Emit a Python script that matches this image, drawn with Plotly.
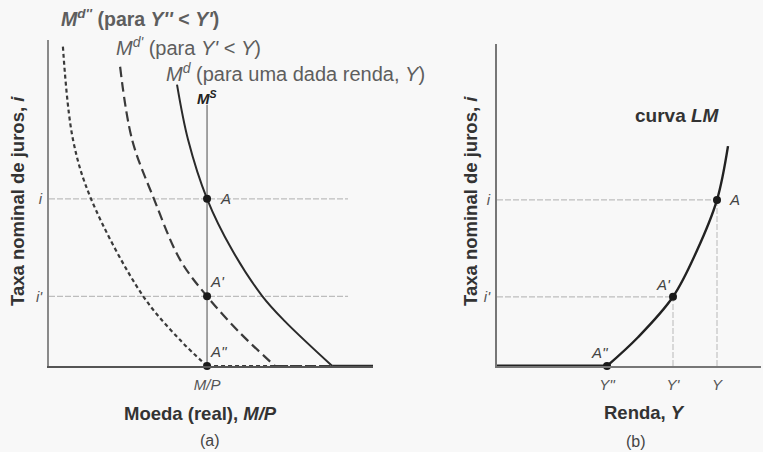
import plotly.graph_objects as go

# ---------------- data (conceptual units) ----------------
# panel (a): real money on x, nominal interest rate on y
M_P = 5.0          # real money supply
I_RATE = 6.0       # interest rate i
I_PRIME = 2.5      # interest rate i'
X_MAX_A = 10.25
Y_MAX = 11.7

md_x = [4.05, 4.40, 5.00, 5.79, 6.74, 7.45, 8.96]
md_y = [10.10, 8.12, 6.00, 4.17, 2.52, 1.62, 0.0]

md1_x = [2.25, 2.63, 3.32, 4.15, 5.00, 6.04, 7.15]
md1_y = [10.74, 8.12, 6.00, 3.81, 2.50, 1.19, 0.0]

md2_x = [0.44, 0.76, 1.33, 2.97, 4.15, 5.00]
md2_y = [11.46, 8.12, 6.00, 2.52, 0.93, 0.0]

ms_top = 9.38
guide_end_a = 9.46

# panel (b): income on x, interest rate on y
Y2 = 5.0    # Y''
Y1 = 8.0    # Y'
Y0 = 10.0   # Y
X_MAX_B = 12.0
lm_x = [5.0, 6.41, 8.0, 9.09, 10.0, 10.5]
lm_y = [0.0, 1.04, 2.5, 4.17, 6.0, 7.94]

FONT = "Liberation Sans, Arial, sans-serif"
W, H = 763, 452


def px(x):
    return x / W


def py(y):
    return 1 - y / H


fig = go.Figure()

guide = dict(color="#bdbdbd", width=1.2, dash="6px,2px")
A_kw = dict(xaxis="x", yaxis="y", showlegend=False, hoverinfo="skip")
B_kw = dict(xaxis="x2", yaxis="y2", showlegend=False, hoverinfo="skip")

# ---- panel (a) ----
fig.add_trace(go.Scatter(x=[0, guide_end_a], y=[I_RATE, I_RATE], mode="lines", line=guide, **A_kw))
fig.add_trace(go.Scatter(x=[0, guide_end_a], y=[I_PRIME, I_PRIME], mode="lines", line=guide, **A_kw))
fig.add_trace(go.Scatter(x=[M_P, M_P], y=[0, ms_top], mode="lines",
                         line=dict(color="#8c8c8c", width=1.6), **A_kw))

fig.add_trace(go.Scatter(x=md2_x, y=md2_y, mode="lines", line=dict(color="#3a3a3a", width=2.2, dash="4px,3px", shape="spline", smoothing=1.0), **A_kw))
fig.add_trace(go.Scatter(x=[md2_x[-1], X_MAX_A], y=[0, 0], mode="lines", line=dict(color="#3a3a3a", width=2.2, dash="4px,3px"), **A_kw))
fig.add_trace(go.Scatter(x=md1_x, y=md1_y, mode="lines", line=dict(color="#3a3a3a", width=2.2, dash="10px,5px", shape="spline", smoothing=1.0), **A_kw))
fig.add_trace(go.Scatter(x=[md1_x[-1], X_MAX_A], y=[0, 0], mode="lines", line=dict(color="#3a3a3a", width=2.2, dash="10px,5px"), **A_kw))
fig.add_trace(go.Scatter(x=md_x, y=md_y, mode="lines", line=dict(color="#2a2a2a", width=2, shape="spline", smoothing=1.0), **A_kw))
fig.add_trace(go.Scatter(x=[md_x[-1], X_MAX_A], y=[0, 0], mode="lines", line=dict(color="#2a2a2a", width=2.4), **A_kw))

fig.add_trace(go.Scatter(x=[M_P, M_P, M_P], y=[I_RATE, I_PRIME, 0], mode="markers",
                         marker=dict(color="#1a1a1a", size=8), cliponaxis=False, **A_kw))

# ---- panel (b) ----
fig.add_trace(go.Scatter(x=[0, Y0], y=[I_RATE, I_RATE], mode="lines", line=guide, **B_kw))
fig.add_trace(go.Scatter(x=[0, Y1], y=[I_PRIME, I_PRIME], mode="lines", line=guide, **B_kw))
fig.add_trace(go.Scatter(x=[Y1, Y1], y=[0, I_PRIME], mode="lines", line=dict(color="#c4c4c4", width=1.2, dash="6px,2px"), **B_kw))
fig.add_trace(go.Scatter(x=[Y0, Y0], y=[0, I_RATE], mode="lines", line=dict(color="#c4c4c4", width=1.2, dash="6px,2px"), **B_kw))
fig.add_trace(go.Scatter(x=[0, Y2], y=[0, 0], mode="lines", line=dict(color="#222", width=3), cliponaxis=False, **B_kw))
fig.add_trace(go.Scatter(x=lm_x, y=lm_y, mode="lines", line=dict(color="#222", width=2.4, shape="spline", smoothing=1.0), **B_kw))
fig.add_trace(go.Scatter(x=[Y2, Y1, Y0], y=[0, I_PRIME, I_RATE], mode="markers",
                         marker=dict(color="#1a1a1a", size=8), cliponaxis=False, **B_kw))

tickfont = dict(family=FONT, size=15, color="#555")
axis_common = dict(showgrid=False, zeroline=False, showline=True, ticks="outside",
                   tickcolor="rgba(0,0,0,0)", tickfont=tickfont, fixedrange=True)

fig.update_layout(
    width=W, height=H,
    margin=dict(l=0, r=0, t=0, b=0),
    paper_bgcolor="#f8f8f8", plot_bgcolor="rgba(0,0,0,0)",
    font=dict(family=FONT, color="#444"),
    xaxis=dict(domain=[px(49), px(373)], range=[0, X_MAX_A], anchor="y",
               tickvals=[M_P], ticktext=["<i>M/P</i>"], ticklen=4,
               linecolor="#555", linewidth=1.5, **axis_common),
    yaxis=dict(domain=[py(366), py(40)], range=[0, Y_MAX], anchor="x",
               tickvals=[I_PRIME, I_RATE], ticktext=["<i>i'</i>", "<i>i</i>"], ticklen=2,
               linecolor="#8a8a8a", linewidth=1.6, **axis_common),
    xaxis2=dict(domain=[px(497), px(761)], range=[0, X_MAX_B], anchor="y2",
                tickvals=[Y2, Y1, Y0], ticktext=["<i>Y''</i>", "<i>Y'</i>", "<i>Y</i>"], ticklen=4,
                linecolor="#777", linewidth=1.5, **axis_common),
    yaxis2=dict(domain=[py(366), py(44)], range=[0, Y_MAX - 0.07], anchor="x2",
                tickvals=[I_PRIME, I_RATE], ticktext=["<i>i'</i>", "<i>i</i>"], ticklen=2,
                linecolor="#777", linewidth=2, **axis_common),
)

ann = []
lab = dict(family=FONT, size=20, color="#5e5e5e")
ann.append(dict(x=px(59), y=py(18), xref="paper", yref="paper", xanchor="left", yanchor="middle",
                text="<b><i>M</i><sup><i>d''</i></sup> (para <i>Y''</i> &lt; <i>Y'</i>)</b>", font=dict(family=FONT, size=19.5, color="#5e5e5e"), showarrow=False))
ann.append(dict(x=px(114), y=py(46), xref="paper", yref="paper", xanchor="left", yanchor="middle",
                text="<i>M</i><sup><i>d'</i></sup> (para <i>Y'</i> &lt; <i>Y</i>)", font=lab, showarrow=False))
ann.append(dict(x=px(164), y=py(72), xref="paper", yref="paper", xanchor="left", yanchor="middle",
                text="<i>M</i><sup><i>d</i></sup> (para uma dada renda, <i>Y</i>)", font=lab, showarrow=False))
ann.append(dict(x=M_P, y=ms_top, xref="x", yref="y", xanchor="center", yanchor="bottom", yshift=-4,
                text="<b><i>M</i></b><sup><b><i>S</i></b></sup>", font=dict(family=FONT, size=15, color="#222"), showarrow=False))

pt = dict(family=FONT, size=15, color="#444")
ann += [
    dict(x=M_P, y=I_RATE, xref="x", yref="y", xanchor="left", yanchor="middle", xshift=11, text="<i>A</i>", font=pt, showarrow=False),
    dict(x=M_P, y=I_PRIME, xref="x", yref="y", xanchor="left", yanchor="bottom", xshift=1, yshift=4, text="<i>A'</i>", font=pt, showarrow=False),
    dict(x=M_P, y=0, xref="x", yref="y", xanchor="left", yanchor="bottom", xshift=1, yshift=4, text="<i>A''</i>", font=pt, showarrow=False),
    dict(x=Y2, y=0, xref="x2", yref="y2", xanchor="right", yanchor="bottom", xshift=4, yshift=3, text="<i>A''</i>", font=pt, showarrow=False),
    dict(x=Y1, y=I_PRIME, xref="x2", yref="y2", xanchor="right", yanchor="bottom", xshift=0, yshift=2, text="<i>A'</i>", font=pt, showarrow=False),
    dict(x=Y0, y=I_RATE, xref="x2", yref="y2", xanchor="left", yanchor="middle", xshift=10, text="<i>A</i>", font=pt, showarrow=False),
]

ann.append(dict(x=px(677), y=py(116), xref="paper", yref="paper", xanchor="center", yanchor="middle",
                text="<b>curva <i>LM</i></b>", font=dict(family=FONT, size=19, color="#333"), showarrow=False))

title_font = dict(family=FONT, size=18.5, color="#333")
ann.append(dict(x=px(17), y=py(201), xref="paper", yref="paper", textangle=-90, xanchor="center", yanchor="middle",
                text="<b>Taxa nominal de juros, <i>i</i></b>", font=title_font, showarrow=False))
ann.append(dict(x=px(470), y=py(201), xref="paper", yref="paper", textangle=-90, xanchor="center", yanchor="middle",
                text="<b>Taxa nominal de juros, <i>i</i></b>", font=title_font, showarrow=False))
ann.append(dict(x=px(200), y=py(413), xref="paper", yref="paper", xanchor="center", yanchor="middle",
                text="<b>Moeda (real), <i>M/P</i></b>", font=title_font, showarrow=False))
ann.append(dict(x=px(644), y=py(412), xref="paper", yref="paper", xanchor="center", yanchor="middle",
                text="<b>Renda, <i>Y</i></b>", font=title_font, showarrow=False))
ann.append(dict(x=px(210), y=py(440), xref="paper", yref="paper", xanchor="center", yanchor="middle",
                text="(a)", font=dict(family=FONT, size=16, color="#444"), showarrow=False))
ann.append(dict(x=px(636), y=py(441), xref="paper", yref="paper", xanchor="center", yanchor="middle",
                text="(b)", font=dict(family=FONT, size=16, color="#444"), showarrow=False))

fig.update_layout(annotations=ann)
fig.write_html("out.html", config={"displayModeBar": False},
               post_script="document.body.style.margin='0';document.body.style.padding='0';")
